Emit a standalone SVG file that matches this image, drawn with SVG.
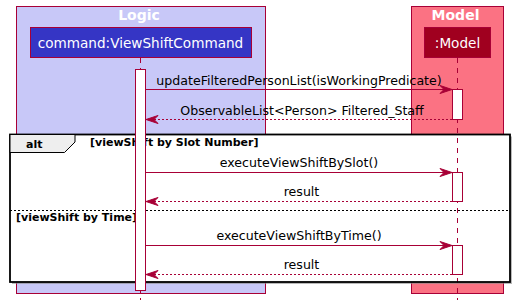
<svg xmlns="http://www.w3.org/2000/svg" width="515" height="305" viewBox="0 0 515 305">
  <defs>
    <style>
      .boxtitle { font-family: "DejaVu Sans", sans-serif; font-size: 14px; font-weight: bold; fill: #ffffff; text-anchor: middle; }
      .head { stroke: #A80036; stroke-width: 1; }
      .headtext { font-family: "DejaVu Sans", sans-serif; font-size: 13.6px; fill: #ffffff; text-anchor: middle; }
      .life { stroke: #A80036; stroke-width: 1; stroke-dasharray: 5,5; fill: none; }
      .act { fill: #ffffff; stroke: #A80036; stroke-width: 1; }
      .msg { stroke: #A80036; stroke-width: 1; fill: none; }
      .ret { stroke: #A80036; stroke-width: 1; fill: none; stroke-dasharray: 2,2; }
      .head-arrow { fill: #A80036; stroke: #A80036; stroke-width: 1; }
      .label { font-family: "DejaVu Sans", sans-serif; font-size: 12.6px; fill: #000000; text-anchor: middle; }
      .frametext { font-family: "DejaVu Sans", sans-serif; font-size: 11px; font-weight: bold; fill: #000000; }
    </style>
  </defs>

  <!-- package boxes -->
  <g id="box-logic">
    <rect x="16.5" y="6.5" width="249" height="287" fill="#C8C8F8" stroke="#A80036" stroke-width="1"/>
    <text class="boxtitle" x="139" y="19.5">Logic</text>
  </g>
  <g id="box-model">
    <rect x="411.5" y="6.5" width="92" height="287" fill="#FB7283" stroke="#A80036" stroke-width="1"/>
    <text class="boxtitle" x="455.5" y="19.5">Model</text>
  </g>

  <!-- alt frame background and shadow -->
  <g id="frame-alt-bg">
    <rect x="12" y="136.5" width="500" height="147.5" fill="#8a8a8a" opacity="0.6"/>
    <rect x="10" y="134.5" width="500" height="147.5" fill="#ffffff"/>
  </g>

  <!-- lifelines -->
  <g id="lifelines">
    <line class="life" x1="140.5" y1="58" x2="140.5" y2="300"/>
    <line class="life" x1="457.5" y1="58" x2="457.5" y2="300"/>
  </g>

  <!-- alt frame -->
  <g id="frame-alt">
    <rect x="10" y="134.5" width="500" height="147.5" fill="none" stroke="#000000" stroke-width="1.8"/>
    <path d="M10,134.5 L75,134.5 L75,142 L64.5,152.5 L10,152.5 Z" fill="#EEEEEE" stroke="#000000" stroke-width="1"/>
    <text class="frametext" x="26" y="148">alt</text>
    <text class="frametext" x="90" y="146">[viewShift by Slot Number]</text>
    <line x1="10" y1="210.5" x2="510" y2="210.5" stroke="#000000" stroke-width="1" stroke-dasharray="2,2"/>
    <text class="frametext" x="16" y="220.5">[viewShift by Time]</text>
  </g>

  <!-- participants -->
  <g id="command">
    <rect class="head" x="30.5" y="27.5" width="221" height="30" fill="#3535C5"/>
    <text class="headtext" x="140.5" y="47.5">command:ViewShiftCommand</text>
    <rect class="act" x="135.5" y="69.5" width="10" height="221"/>
  </g>
  <g id="model">
    <rect class="head" x="424.5" y="27.5" width="66" height="30" fill="#A0001F"/>
    <text class="headtext" x="457.5" y="47.5">:Model</text>
    <rect class="act" x="452.5" y="89.5" width="10" height="30"/>
    <rect class="act" x="452.5" y="172.5" width="10" height="29"/>
    <rect class="act" x="452.5" y="245.5" width="10" height="29"/>
  </g>

  <!-- messages -->
  <g id="connectors">
    <line class="msg" x1="146" y1="89.5" x2="450" y2="89.5"/>
    <polygon class="head-arrow" points="440,85.5 452,89.5 440,93.5 444,89.5"/>
    <text class="label" x="299" y="84.5">updateFilteredPersonList(isWorkingPredicate)</text>

    <line class="ret" x1="452" y1="119.5" x2="148" y2="119.5"/>
    <polygon class="head-arrow" points="158,115.5 146,119.5 158,123.5 154,119.5"/>
    <text class="label" x="302" y="114.5">ObservableList&lt;Person&gt; Filtered_Staff</text>

    <line class="msg" x1="146" y1="172.5" x2="450" y2="172.5"/>
    <polygon class="head-arrow" points="440,168.5 452,172.5 440,176.5 444,172.5"/>
    <text class="label" x="299" y="167">executeViewShiftBySlot()</text>

    <line class="ret" x1="452" y1="201.5" x2="148" y2="201.5"/>
    <polygon class="head-arrow" points="158,197.5 146,201.5 158,205.5 154,201.5"/>
    <text class="label" x="301.5" y="195.5">result</text>

    <line class="msg" x1="146" y1="245.5" x2="450" y2="245.5"/>
    <polygon class="head-arrow" points="440,241.5 452,245.5 440,249.5 444,245.5"/>
    <text class="label" x="299" y="240">executeViewShiftByTime()</text>

    <line class="ret" x1="452" y1="274.5" x2="148" y2="274.5"/>
    <polygon class="head-arrow" points="158,270.5 146,274.5 158,278.5 154,274.5"/>
    <text class="label" x="301.5" y="268.5">result</text>
  </g>
</svg>
